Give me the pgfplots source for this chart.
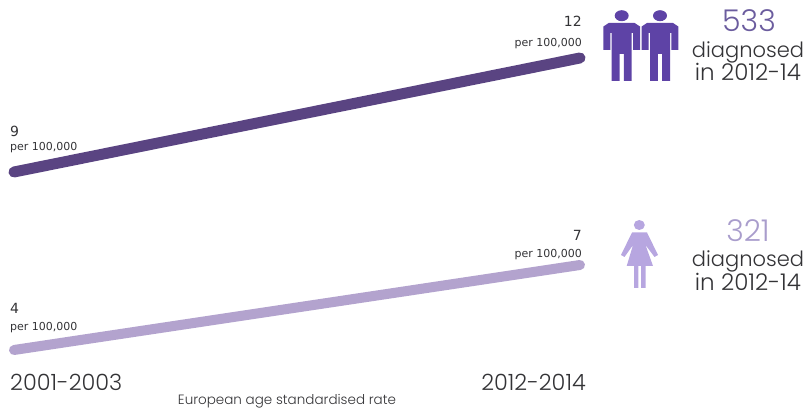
\documentclass[border=0pt]{standalone}
\usepackage{pgfplots}
\pgfplotsset{compat=1.18}
\usepackage{fontspec}
\setmainfont{Poppins Light}
\newfontfamily\smallfont{DejaVu Sans}
\definecolor{menline}{HTML}{5A4482}
\definecolor{womenline}{HTML}{B3A3CE}
\definecolor{menicon}{HTML}{5E43A6}
\definecolor{womenicon}{HTML}{B7A6E0}
\definecolor{mennum}{HTML}{6B5C9E}
\definecolor{womennum}{HTML}{A99DCC}
\definecolor{inktext}{HTML}{333336}
\pgfplotsset{
  canvas/.style={
    at={(0,0)}, anchor=south west, scale only axis,
    width=807pt, height=411pt, hide axis, clip=false},
  rate/.style={canvas, xmin=-0.02473, xmax=1.4011},
}
\newcommand{\rateplot}[2]{\addplot[#1, line width=#2, line cap=round, no markers]}
% Small label pair: the rate and its "per 100,000" unit
\newcommand{\ratelabel}[6]{%
  \node[anchor=base #1, inner sep=0pt, text=inktext, font=\smallfont\fontsize{14}{14}\selectfont] at (axis cs:#2,#3) {#4};
  \node[anchor=base #1, inner sep=0pt, text=inktext, font=\smallfont\fontsize{11}{11}\selectfont] at (axis cs:#5,#6) {per 100,000};
}
% Man pictogram, centred on x = #1 in pixel space
\newcommand{\manicon}[1]{%
  \fill[menicon] (axis cs:#1,15.7) ellipse[x radius=7pt, y radius=5.5pt];
  \addplot[draw=none, fill=menicon, forget plot] coordinates {
    (#1-13,23) (#1+13,23) (#1+18.3,26.5) (#1+18.3,50) (#1+11.3,50) (#1+11.3,33) (#1+10,33)
    (#1+10,81) (#1+2.2,81) (#1+2.2,54) (#1-2.2,54) (#1-2.2,81) (#1-10,81)
    (#1-10,33) (#1-11.3,33) (#1-11.3,50) (#1-18.3,50) (#1-18.3,26.5)} -- cycle;
}
\begin{document}
\begin{tikzpicture}
\useasboundingbox (0,0) rectangle (807pt,411pt);

% Men: rate per 100,000
\begin{axis}[rate, ymin=2.711, ymax=13.526]
  \rateplot{menline}{11pt} coordinates {(0,9) (1,12)};
\end{axis}

% Women: rate per 100,000
\begin{axis}[rate, ymin=1.847, ymax=16.353]
  \rateplot{womenline}{10pt} coordinates {(0,4) (1,7)};
\end{axis}

% Labels and pictograms in pixel space
\begin{axis}[canvas, xmin=0, xmax=807, ymin=0, ymax=411, y dir=reverse]
  \ratelabel{west}{10}{137}{9}{10}{151}
  \ratelabel{east}{582}{27}{12}{582}{47}
  \ratelabel{west}{10}{314}{4}{10}{331}
  \ratelabel{east}{582}{241}{7}{582}{258}

  \manicon{621.7}
  \manicon{660}

  % Woman pictogram
  \fill[womenicon] (axis cs:639.3,225) ellipse[x radius=5.5pt, y radius=5pt];
  \addplot[draw=none, fill=womenicon, forget plot] coordinates {
    (632,232.5) (647,232.5) (658,255) (654.5,257) (645.5,245) (653,266) (645.7,266) (645.7,288)
    (641,288) (641,266) (638.3,266) (638.3,288) (634,288) (634,266) (626.7,266) (633,245)
    (624.5,257) (621,255)} -- cycle;

  \node[anchor=base, inner sep=0pt, text=mennum, font=\fontsize{30}{30}\selectfont] at (axis cs:749,32) {533};
  \node[anchor=base, inner sep=0pt, text=inktext, font=\fontsize{21}{21}\selectfont] at (axis cs:748,58) {diagnosed};
  \node[anchor=base, inner sep=0pt, text=inktext, font=\fontsize{23}{22}\selectfont] at (axis cs:748,81) {in 2012-14};

  \node[anchor=base, inner sep=0pt, text=womennum, font=\fontsize{30}{30}\selectfont] at (axis cs:748,242) {321};
  \node[anchor=base, inner sep=0pt, text=inktext, font=\fontsize{21}{21}\selectfont] at (axis cs:748,267) {diagnosed};
  \node[anchor=base, inner sep=0pt, text=inktext, font=\fontsize{23}{22}\selectfont] at (axis cs:748,291) {in 2012-14};

  \node[anchor=base west, inner sep=0pt, text=inktext, font=\fontsize{22.4}{22}\selectfont] at (axis cs:10,391) {2001-2003};
  \node[anchor=base east, inner sep=0pt, text=inktext, font=\fontsize{22.4}{22}\selectfont] at (axis cs:586,391) {2012-2014};
  \node[anchor=base, inner sep=0pt, text=inktext, font=\fontsize{13.5}{13}\selectfont] at (axis cs:287,405) {European age standardised rate};
\end{axis}
\end{tikzpicture}
\end{document}
